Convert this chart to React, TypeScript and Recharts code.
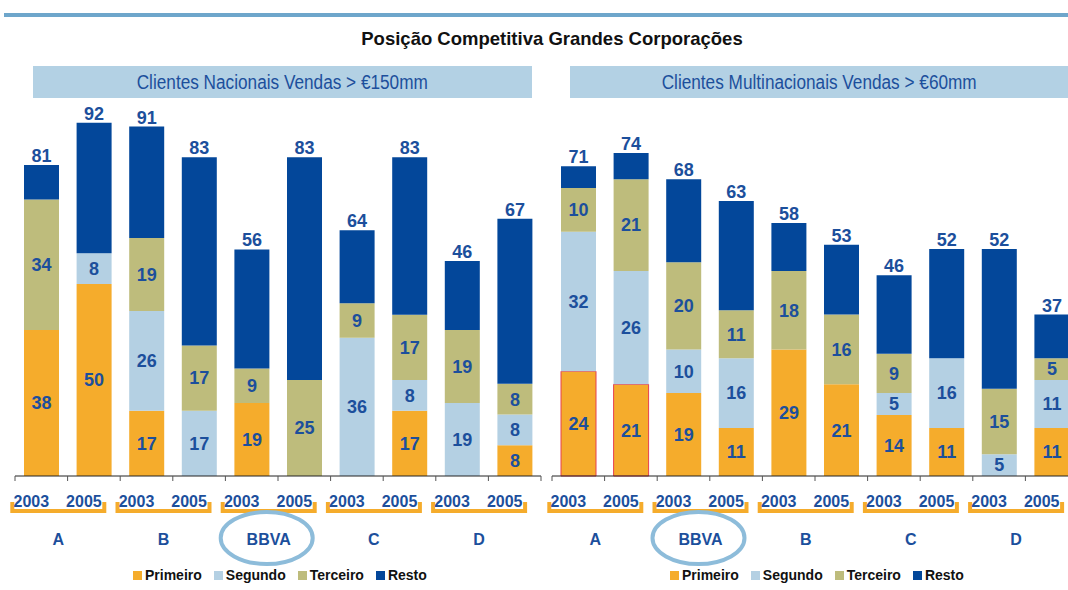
import { BarChart, Bar, XAxis, YAxis, LabelList, Legend, Cell } from 'recharts';

const years = ['2003', '2005'];
const seriesOrder = ['Primeiro', 'Segundo', 'Terceiro', 'Resto'];

// Clientes Nacionais Vendas > €150mm
const nacGroups = ['A', 'B', 'BBVA', 'C', 'D'];
const nacPrimeiro = [38, 50, 17, 0, 19, 0, 0, 17, 0, 8];
const nacSegundo = [0, 8, 26, 17, 0, 0, 36, 8, 19, 8];
const nacTerceiro = [34, 0, 19, 17, 9, 25, 9, 17, 19, 8];
const nacResto = [9, 34, 29, 49, 31, 58, 19, 41, 18, 43];
const nacTotal = [81, 92, 91, 83, 56, 83, 64, 83, 46, 67];

// Clientes Multinacionais Vendas > €60mm
const mulGroups = ['A', 'BBVA', 'B', 'C', 'D'];
const mulPrimeiro = [24, 21, 19, 11, 29, 21, 14, 11, 0, 11];
const mulSegundo = [32, 26, 10, 16, 0, 0, 5, 16, 5, 11];
const mulTerceiro = [10, 21, 20, 11, 18, 16, 9, 0, 15, 5];
const mulResto = [5, 6, 19, 25, 11, 16, 18, 25, 32, 10];
const mulTotal = [71, 74, 68, 63, 58, 53, 46, 52, 52, 37];

const PRIMEIRO = '#F5AC2C';
const SEGUNDO = '#B4D0E3';
const TERCEIRO = '#BEBC7C';
const RESTO = '#03479A';
const LABEL = '#1C4F9C';
const RING = '#8DBCDA';
const FONT = '"Liberation Sans", Arial, sans-serif';

type Row = {
  key: string;
  group: string;
  year: string;
  primeiro: number;
  segundo: number;
  terceiro: number;
  resto: number;
  total: number;
};

const buildRows = (
  groups: string[],
  p: number[],
  s: number[],
  t: number[],
  r: number[],
  tot: number[]
): Row[] =>
  groups.flatMap((g, gi) =>
    years.map((y, yi) => {
      const i = gi * 2 + yi;
      return { key: `${g} ${y}`, group: g, year: y, primeiro: p[i], segundo: s[i], terceiro: t[i], resto: r[i], total: tot[i] };
    })
  );

const nacRows = buildRows(nacGroups, nacPrimeiro, nacSegundo, nacTerceiro, nacResto, nacTotal);
const mulRows = buildRows(mulGroups, mulPrimeiro, mulSegundo, mulTerceiro, mulResto, mulTotal);

const hideZero = (v: any) => (v ? v : '');

// year label + bracket + group name under each pair of bars
function GroupTick(props: any) {
  const { x, y, payload, rows } = props;
  const i = payload?.index ?? props.index;
  const row: Row = rows[i];
  if (!row) return null;
  const half = payload?.offset || 26.3;
  const first = i % 2 === 0;
  return (
    <g>
      <line x1={x - half} x2={x - half} y1={y} y2={y + 5} stroke="#555" />
      {i === rows.length - 1 && <line x1={x + half} x2={x + half} y1={y} y2={y + 5} stroke="#555" />}
      {first && (
        <path
          d={`M${x - 29},${y + 26} V${y + 35} H${x + 63} V${y + 26}`}
          fill="none"
          stroke={PRIMEIRO}
          strokeWidth={4}
        />
      )}
      <text x={x - 10} y={y + 31} textAnchor="middle" fill={LABEL} fontSize={16} fontWeight="bold" fontFamily={FONT}>
        {row.year}
      </text>
      {first && row.group === 'BBVA' && (
        <ellipse cx={x + 15} cy={y + 62} rx={46} ry={26} fill="none" stroke={RING} strokeWidth={4} />
      )}
      {first && (
        <text x={x + 17} y={y + 69} textAnchor="middle" fill={LABEL} fontSize={16} fontWeight="bold" fontFamily={FONT}>
          {row.group}
        </text>
      )}
    </g>
  );
}

const renderLegend = (props: any) => {
  const items = [...(props.payload || [])].sort(
    (a: any, b: any) => seriesOrder.indexOf(a.value) - seriesOrder.indexOf(b.value)
  );
  return (
    <div style={{ display: 'flex', alignItems: 'center', gap: 12, fontFamily: FONT, fontSize: 14, fontWeight: 'bold', color: '#111' }}>
      {items.map((e: any) => (
        <span key={e.value} style={{ display: 'flex', alignItems: 'center' }}>
          <span style={{ width: 9, height: 9, background: e.color, marginRight: 3, display: 'inline-block' }} />
          {e.value}
        </span>
      ))}
    </div>
  );
};

function Panel({ rows, maxY, left, red }: { rows: Row[]; maxY: number; left: number; red?: boolean }) {
  const inside = { fill: LABEL, fontSize: 18, fontWeight: 'bold', fontFamily: FONT } as any;
  return (
    <div style={{ position: 'absolute', left, top: 0 }}>
      <BarChart width={545} height={590} data={rows} margin={{ top: 92, right: 4, left: 15, bottom: 0 }} barSize={35}>
        <XAxis
          dataKey="key"
          interval={0}
          height={114}
          tickSize={0}
          tickMargin={0}
          tickLine={false}
          axisLine={{ stroke: '#222' }}
          tick={(p: any) => <GroupTick {...p} rows={rows} />}
        />
        <YAxis hide domain={[0, maxY]} />
        <Legend
          layout="horizontal"
          verticalAlign="middle"
          align="center"
          width={340}
          wrapperStyle={{ left: 133, top: 567 }}
          content={renderLegend}
        />
        <Bar dataKey="primeiro" name="Primeiro" stackId="a" fill={PRIMEIRO} isAnimationActive={false}>
          {rows.map((_, i) => (
            <Cell key={i} stroke={red && i < 2 ? '#E5414F' : 'none'} />
          ))}
          <LabelList dataKey="primeiro" position="center" formatter={hideZero} {...inside} />
        </Bar>
        <Bar dataKey="segundo" name="Segundo" stackId="a" fill={SEGUNDO} isAnimationActive={false}>
          <LabelList dataKey="segundo" position="center" formatter={hideZero} {...inside} />
        </Bar>
        <Bar dataKey="terceiro" name="Terceiro" stackId="a" fill={TERCEIRO} isAnimationActive={false}>
          <LabelList dataKey="terceiro" position="center" formatter={hideZero} {...inside} />
        </Bar>
        <Bar dataKey="resto" name="Resto" stackId="a" fill={RESTO} isAnimationActive={false}>
          <LabelList dataKey="total" position="top" offset={3} {...inside} />
        </Bar>
      </BarChart>
    </div>
  );
}

const headerStyle = {
  position: 'absolute',
  top: 66,
  height: 32,
  background: '#B3D1E4',
  color: LABEL,
  fontFamily: FONT,
  fontSize: 20,
  display: 'flex',
  alignItems: 'center',
  justifyContent: 'center',
  whiteSpace: 'nowrap',
} as const;

const narrow = { display: 'inline-block', transform: 'scaleX(0.86)' };

export default function App() {
  return (
    <div style={{ position: 'fixed', left: 0, top: 0, width: 1068, height: 590, overflow: 'hidden', background: '#fff', fontFamily: FONT }}>
      <div style={{ position: 'absolute', left: 4, right: 0, top: 13, height: 4, background: '#6EA6CB' }} />
      <div
        style={{
          position: 'absolute',
          left: 0,
          width: 1104,
          top: 28,
          textAlign: 'center',
          fontSize: 18.5,
          fontWeight: 'bold',
          color: '#111',
        }}
      >
        Posição Competitiva Grandes Corporações
      </div>
      <div style={{ ...headerStyle, left: 33, width: 499 }}>
        <span style={narrow}>Clientes Nacionais Vendas &gt; €150mm</span>
      </div>
      <div style={{ ...headerStyle, left: 570, width: 498 }}>
        <span style={narrow}>Clientes Multinacionais Vendas &gt; €60mm</span>
      </div>
      <Panel rows={nacRows} maxY={100} left={0} />
      <Panel rows={mulRows} maxY={88} left={537} red />
    </div>
  );
}
